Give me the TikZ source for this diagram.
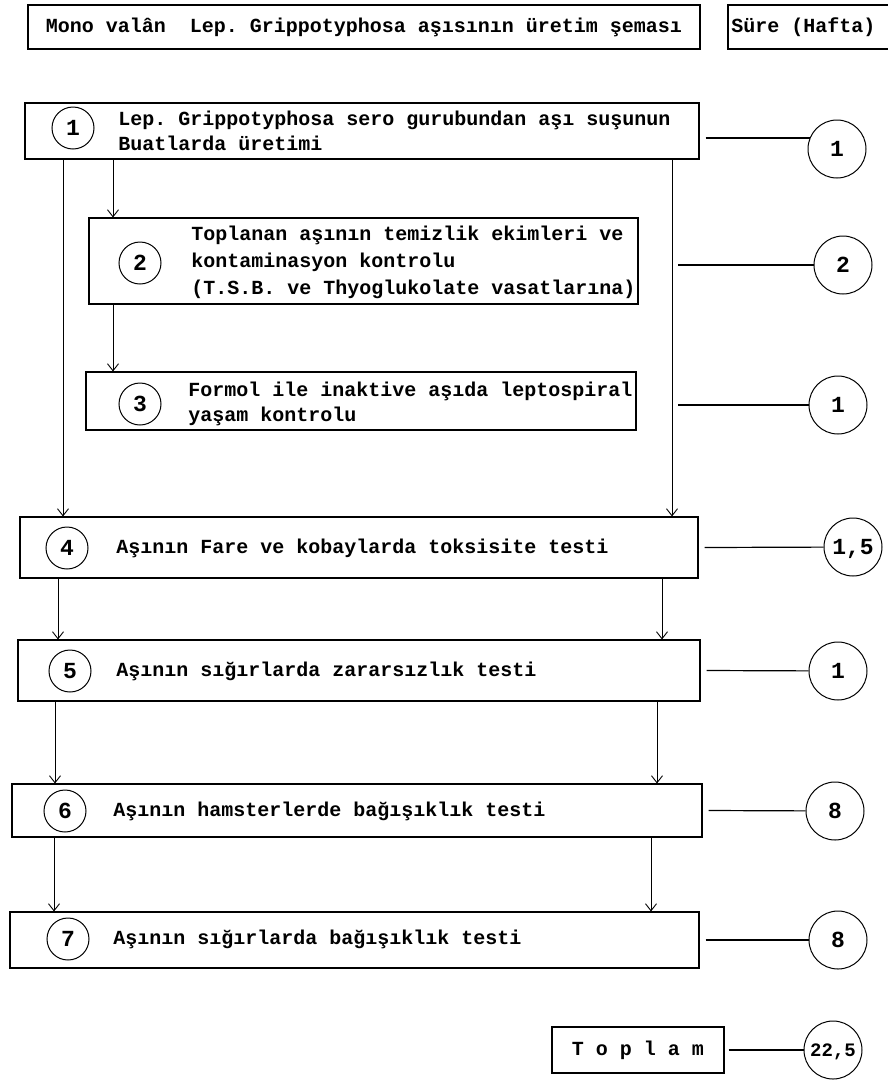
\documentclass[tikz,border=0pt]{standalone}
\usepackage{fontspec}
\setmonofont{Liberation Mono}
\usetikzlibrary{arrows.meta, positioning, calc}

\tikzset{
  box/.style={draw, line width=1.1pt, inner sep=0pt},
  num/.style={draw, circle, line width=1pt, minimum size=42pt, inner sep=0pt,
    text depth=0pt, font=\ttfamily\bfseries\fontsize{23}{23}\selectfont},
  dur/.style={draw, circle, line width=1pt, minimum size=58pt, inner sep=0pt,
    text depth=0pt, font=\ttfamily\bfseries\fontsize{23}{23}\selectfont},
  txt/.style={anchor=west, align=left, inner sep=0pt},
}

\begin{document}
\begin{tikzpicture}[x=1pt, y=-1pt, line width=0.9pt,
    font=\ttfamily\bfseries\fontsize{20}{25}\selectfont,
    >={Straight Barb[length=7pt,width=11pt]}]
  \useasboundingbox (0,0) rectangle (888,1080);

  % header
  \node[box, minimum width=672pt, minimum height=44pt] (head) at (364,27)
    {Mono valân\ \ Lep. Grippotyphosa aşısının üretim şeması};
  \draw[line width=1.1pt] (888,5) -| (728,49) -- (888,49);
  \node[txt] (sure) at (731,27) {Süre (Hafta)};

  % step boxes
  \node[box, minimum width=674pt, minimum height=56pt] (b1) at (362,131) {};
  \node[box, minimum width=549pt, minimum height=86pt] (b2) at (363.5,261) {};
  \node[box, minimum width=550pt, minimum height=58pt] (b3) at (361,401) {};
  \node[box, minimum width=678pt, minimum height=61pt] (b4) at (359,547.5) {};
  \node[box, minimum width=682pt, minimum height=61pt] (b5) at (359,670.5) {};
  \node[box, minimum width=690pt, minimum height=53pt] (b6) at (357,810.5) {};
  \node[box, minimum width=689pt, minimum height=56pt] (b7) at (354.5,940) {};
  \node[box, minimum width=172pt, minimum height=46pt] (top) at (638,1050) {T o p l a m};

  % step texts
  \node[txt] (t1) at (118,131) {Lep. Grippotyphosa sero gurubundan aşı suşunun\\Buatlarda üretimi};
  \node[txt] (t2) at (191,262) {Toplanan aşının temizlik ekimleri ve\\[2pt]kontaminasyon kontrolu\\[2pt](T.S.B. ve Thyoglukolate vasatlarına)};
  \node[txt] (t3) at (188,404) {Formol ile inaktive aşıda leptospiral\\yaşam kontrolu};
  \node[txt] (t4) at (116,548) {Aşının Fare ve kobaylarda toksisite testi};
  \node[txt] (t5) at (116,671) {Aşının sığırlarda zararsızlık testi};
  \node[txt] (t6) at (113,811) {Aşının hamsterlerde bağışıklık testi};
  \node[txt] (t7) at (113,939) {Aşının sığırlarda bağışıklık testi};

  % step numbers
  \foreach \i/\x/\y in {1/73/128, 2/140/263, 3/140/404, 4/67/548, 5/70/671, 6/65/811, 7/68/939}
    \node[num] (n\i) at (\x,\y) {\i};

  % durations
  \foreach \i/\x/\y/\v in {1/837/149/1, 2/843/265/2, 3/838/405/1, 4/853/547/{1,5},
                           5/838/671/1, 6/835/811/8, 7/838/940/8}
    \node[dur] (d\i) at (\x,\y) {\v};
  \node[dur, font=\ttfamily\bfseries\fontsize{19}{19}\selectfont] (d8) at (833,1050) {22,5};

  % columns of the arrows
  \coordinate (l1) at (63,0);  \coordinate (m1) at (113,0);
  \coordinate (l4) at (58,0);  \coordinate (l5) at (55,0);  \coordinate (l6) at (54,0);
  \coordinate (r1) at (672,0); \coordinate (rs) at (678,0);
  \coordinate (r4) at (662,0); \coordinate (r5) at (657,0); \coordinate (r6) at (651,0);

  \draw[->] (b1.south -| l1) -- (b4.north -| l1);
  \draw[->] (b1.south -| m1) -- (b2.north -| m1);
  \draw[->] (b2.south -| m1) -- (b3.north -| m1);
  \draw[->] (b1.south -| r1) -- (b4.north -| r1);
  \draw[->] (b4.south -| l4) -- (b5.north -| l4);
  \draw[->] (b4.south -| r4) -- (b5.north -| r4);
  \draw[->] (b5.south -| l5) -- (b6.north -| l5);
  \draw[->] (b5.south -| r5) -- (b6.north -| r5);
  \draw[->] (b6.south -| l6) -- (b7.north -| l6);
  \draw[->] (b6.south -| r6) -- (b7.north -| r6);

  % links to the durations
  \draw[line width=1.2pt] (b1.east |- d1.158) ++(6,0) -- (d1.158);
  \draw[line width=1.2pt] (d2 -| rs) -- (d2);
  \draw[line width=1.2pt] (d3 -| rs) -- (d3);
  \foreach \i in {4,5,6,7}
    \draw[line width=1.2pt] (b\i.east) ++(6,0) -- (d\i);
  \draw[line width=1.2pt] (top.east) ++(4,0) -- (d8);
\end{tikzpicture}
\end{document}
